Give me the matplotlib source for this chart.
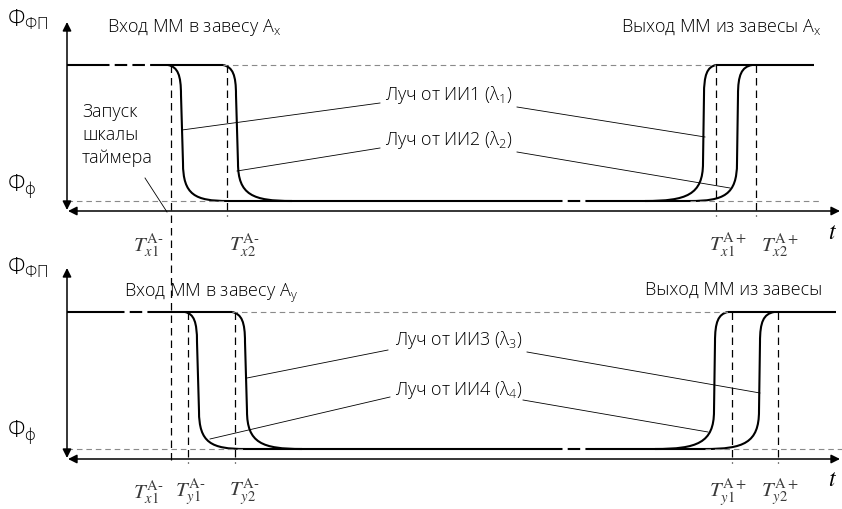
import matplotlib.pyplot as plt
from matplotlib.path import Path
from matplotlib.patches import PathPatch

plt.rcParams["font.family"] = ["Open Sans", "DejaVu Sans"]
plt.rcParams["font.weight"] = "light"
plt.rcParams["mathtext.fontset"] = "custom"
plt.rcParams["mathtext.rm"] = "Open Sans:light"
plt.rcParams["mathtext.it"] = "Open Sans:italic:light"

# --- timing diagram data (pixel-like time / level units) ---
top_high, top_low, top_axis = 65, 201, 211
bot_high, bot_low, bot_axis = 312, 449, 459

# falling edges (start on high level, vertical part, end on low level)
top_fall_start = [168, 223]
top_fall_vert = [181, 236]
top_fall_end = [228, 292]
bot_fall_start = [185, 232]
bot_fall_vert = [197, 245]
bot_fall_end = [245, 302]

# rising edges (start on low level, vertical part, end on high level)
top_rise_start = [645, 690]
top_rise_vert = [704, 738]
top_rise_end = [716, 752]
bot_rise_start = [655, 705]
bot_rise_vert = [715, 760]
bot_rise_end = [728, 774]

# time markers
top_marks = [171, 227, 716, 756]
top_mark_labels = [r"$T^{\mathrm{A‐}}_{x1}$", r"$T^{\mathrm{A‐}}_{x2}$",
                   r"$T^{\mathrm{A+}}_{x1}$", r"$T^{\mathrm{A+}}_{x2}$"]
bot_marks = [188, 235, 732, 778]
bot_mark_labels = [r"$T^{\mathrm{A‐}}_{y1}$", r"$T^{\mathrm{A‐}}_{y2}$",
                   r"$T^{\mathrm{A+}}_{y1}$", r"$T^{\mathrm{A+}}_{y2}$"]
shared_mark = 171

fig = plt.figure(figsize=(8.42, 5.09), dpi=100)
ax = fig.add_axes([0, 0, 1, 1])
ax.set_xlim(0, 842)
ax.set_ylim(509, 0)
ax.axis("off")

M, C, L = Path.MOVETO, Path.CURVE4, Path.LINETO


def fall_edge(x0, xv, x1, hi, lo):
    verts = [(x0, hi), (x0 + 0.75 * (xv - x0), hi + 2), (xv, hi + 10), (xv, hi + 30),
             (xv + 2, lo - 38), (xv + 2, lo - 6), (xv + 0.3 * (x1 - xv), lo), (x1, lo)]
    codes = [M, C, C, C, L, C, C, C]
    ax.add_patch(PathPatch(Path(verts, codes), fill=False, lw=1.5, color="k"))


def rise_edge(x0, xv, x1, hi, lo):
    verts = [(x0, lo), (xv - 0.3 * (xv - x0), lo), (xv - 1, lo - 6), (xv - 1, lo - 38),
             (xv, hi + 30), (xv, hi + 10), (xv + 0.25 * (x1 - xv), hi + 2), (x1, hi)]
    codes = [M, C, C, C, L, C, C, C]
    ax.add_patch(PathPatch(Path(verts, codes), fill=False, lw=1.5, color="k"))


def hline(x0, x1, y, style):
    if style == "solid":
        ax.plot([x0, x1], [y, y], color="k", lw=1.5, solid_capstyle="butt")
    elif style == "break":
        ax.plot([x0, x1], [y, y], color="k", lw=1.5, linestyle=(0, (6, 2.5)))
    else:
        ax.plot([x0, x1], [y, y], color="#8a8a8a", lw=0.8, linestyle=(0, (5, 3.5)))


def axes_arrows(ytop, yaxis):
    ap = dict(arrowstyle="<|-|>", lw=1.1, color="k", mutation_scale=13,
              shrinkA=0, shrinkB=0)
    ax.annotate("", xy=(840, yaxis), xytext=(68, yaxis), arrowprops=ap)
    ax.annotate("", xy=(67, ytop), xytext=(67, yaxis - 1), arrowprops=ap)


def panel(hi, lo, yaxis, ytop, fs, fv, fe, rs, rv, re, hi_solid, hi_break):
    axes_arrows(ytop, yaxis)
    # high level
    hline(67, hi_solid, hi, "solid")
    hline(hi_solid, hi_break, hi, "break")
    hline(hi_break, fs[1], hi, "solid")
    hline(fs[1], re[0], hi, "thin")
    hline(re[0], re[1] + 62, hi, "solid")
    # low level
    hline(67, fe[0], lo, "thin")
    hline(fe[0], 550, lo, "solid")
    hline(550, 590, lo, "break")
    hline(590, rs[1], lo, "solid")
    hline(rs[1], re[1] + 70, lo, "thin")
    for i in range(2):
        fall_edge(fs[i], fv[i], fe[i], hi, lo)
        rise_edge(rs[i], rv[i], re[i], hi, lo)


panel(top_high, top_low, top_axis, 22, top_fall_start, top_fall_vert, top_fall_end,
      top_rise_start, top_rise_vert, top_rise_end, 97, 162)
panel(bot_high, bot_low, bot_axis, 268, bot_fall_start, bot_fall_vert, bot_fall_end,
      bot_rise_start, bot_rise_vert, bot_rise_end, 112, 150)

# marker lines
vd = dict(color="k", lw=0.9, linestyle=(0, (6, 4)))
ax.plot([shared_mark, shared_mark], [top_high, 463], **vd)
for x in top_marks[1:]:
    ax.plot([x, x], [top_high, 216], **vd)
for x in bot_marks:
    ax.plot([x, x], [bot_high, 463], **vd)

lab = dict(fontsize=15, color="#3a3a3a", math_fontfamily="stix", va="center")
top_lab_x = [133, 229, 709, 761]
for x, s in zip(top_lab_x, top_mark_labels):
    ax.text(x, 245, s, **lab)
bot_lab_x = [133, 175, 229, 709, 761]
for x, s in zip(bot_lab_x, [top_mark_labels[0]] + bot_mark_labels):
    ax.text(x, 492, s, **lab)
ax.text(828, 233, "$t$", fontsize=17, math_fontfamily="stix", va="center")
ax.text(828, 480, "$t$", fontsize=17, math_fontfamily="stix", va="center")

# axis names
for yc in (20, 268):
    ax.text(7, yc, r"Ф$_{\mathrm{ФП}}$", fontsize=16.5, va="center")
for yc in (187, 433):
    ax.text(7, yc, r"Ф$_{\mathrm{ф}}$", fontsize=16.5, va="center")

tx = dict(fontsize=13, va="center")
ax.text(107, 27, r"Вход ММ в завесу A$_{\mathrm{x}}$", **tx)
ax.text(822, 27, r"Выход ММ из завесы A$_{\mathrm{x}}$", ha="right", **tx)
ax.text(124, 293, r"Вход ММ в завесу A$_{\mathrm{y}}$", **tx)
ax.text(822, 290, "Выход ММ из завесы", ha="right", **tx)
ax.text(82, 135, "Запуск\nшкалы\nтаймера", linespacing=1.35, **tx)

ax.text(385, 95, r"Луч от ИИ1 (λ$_{\mathrm{1}}$)", **tx)
ax.text(385, 140, r"Луч от ИИ2 (λ$_{\mathrm{2}}$)", **tx)
ax.text(395, 340, r"Луч от ИИ3 (λ$_{\mathrm{3}}$)", **tx)
ax.text(395, 390, r"Луч от ИИ4 (λ$_{\mathrm{4}}$)", **tx)

# leader lines
lead = dict(color="k", lw=0.6)
ax.plot([182, 380], [130, 103], **lead)
ax.plot([517, 705], [107, 137], **lead)
ax.plot([237, 380], [171, 148], **lead)
ax.plot([517, 730], [152, 188], **lead)
ax.plot([145, 167], [178, 212], **lead)
ax.plot([247, 388], [378, 350], **lead)
ax.plot([527, 760], [352, 393], **lead)
ax.plot([210, 390], [439, 397], **lead)
ax.plot([523, 708], [400, 432], **lead)

fig.savefig("out.png", dpi=100)
